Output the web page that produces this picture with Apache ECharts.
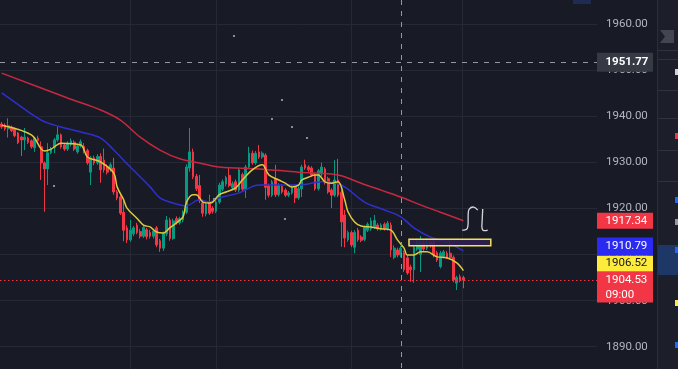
<!DOCTYPE html>
<html><head><meta charset="utf-8">
<script src="https://cdn.jsdelivr.net/npm/echarts@6/dist/echarts.min.js"></script>
<style>html,body{margin:0;padding:0;background:#181b26;overflow:hidden}#c{width:678px;height:369px}</style>
</head><body><div id="c"></div>
<script>
// ---- data ----
const SLOT_COUNT = 181; // time slots on the x axis (incl. empty space to the right)
const categories = Array.from({length: SLOT_COUNT}, (_, i) => String(i));
// [open, close, low, high]
const candles = [
[1938.36,1937.71,1937.30,1938.80],[1938.10,1937.30,1936.90,1938.50],[1937.30,1937.95,1935.40,1939.60],[1937.70,1936.90,1936.60,1938.00],
[1937.30,1935.80,1935.50,1937.60],[1936.40,1934.30,1934.00,1936.60],[1935.50,1934.90,1931.40,1935.80],[1934.90,1935.50,1932.70,1937.50],
[1935.30,1934.40,1934.00,1935.60],[1934.70,1933.40,1933.00,1935.00],[1933.20,1935.30,1932.30,1935.50],[1935.30,1934.80,1934.50,1935.80],
[1933.40,1929.90,1926.20,1934.60],[1929.90,1928.60,1919.30,1930.20],[1928.60,1932.10,1925.10,1934.20],[1932.10,1932.90,1931.80,1933.40],
[1933.20,1934.90,1932.00,1935.30],[1934.90,1936.00,1934.50,1937.70],[1936.00,1933.40,1933.00,1936.30],[1933.80,1932.90,1932.50,1934.20],
[1932.90,1934.20,1932.50,1934.60],[1933.90,1934.70,1933.50,1935.20],[1934.40,1932.90,1932.50,1934.80],[1932.30,1933.60,1931.90,1934.00],
[1933.60,1934.50,1933.20,1935.00],[1933.50,1932.40,1932.00,1934.20],[1932.60,1929.90,1929.50,1933.00],[1927.90,1931.00,1925.10,1931.40],
[1931.00,1929.90,1929.40,1931.50],[1929.90,1931.30,1929.50,1931.80],[1931.30,1928.40,1925.60,1932.00],[1930.50,1928.40,1927.80,1933.00],
[1929.00,1927.90,1927.40,1929.60],[1928.60,1929.50,1928.00,1930.00],[1928.80,1923.60,1923.00,1931.00],[1923.60,1922.30,1921.80,1924.00],
[1922.50,1919.00,1918.60,1923.00],[1919.20,1915.30,1912.90,1922.30],[1915.80,1913.20,1912.50,1916.40],[1913.20,1915.30,1912.80,1917.50],
[1914.50,1915.80,1914.00,1916.20],[1916.40,1914.80,1914.40,1916.90],[1915.00,1914.00,1913.50,1915.50],[1914.00,1915.90,1913.60,1916.30],
[1915.40,1913.90,1913.30,1915.80],[1914.80,1914.00,1913.50,1915.40],[1914.00,1915.10,1913.50,1915.60],[1915.80,1912.10,1911.60,1916.20],
[1913.00,1911.40,1910.60,1913.40],[1911.40,1914.60,1910.80,1915.00],[1914.50,1917.50,1914.00,1918.40],[1917.50,1913.50,1913.00,1918.00],
[1913.50,1917.30,1913.20,1917.80],[1917.80,1916.90,1916.50,1918.30],[1916.90,1917.80,1916.50,1918.20],[1917.50,1919.20,1917.00,1919.60],
[1919.20,1929.00,1918.80,1929.60],[1928.80,1932.30,1928.00,1937.50],[1932.30,1926.90,1926.40,1933.00],[1927.00,1924.30,1923.80,1927.50],
[1925.00,1921.80,1921.20,1927.30],[1921.20,1919.00,1918.20,1921.80],[1918.80,1920.90,1918.30,1921.30],[1921.20,1919.00,1918.60,1923.00],
[1920.10,1919.40,1918.90,1920.50],[1919.40,1921.40,1919.00,1921.90],[1921.40,1925.10,1921.00,1925.60],[1924.20,1925.80,1923.80,1926.30],
[1925.30,1926.70,1924.80,1927.10],[1927.20,1925.00,1924.60,1928.80],[1924.50,1925.40,1924.00,1925.90],[1925.80,1924.00,1923.60,1926.30],
[1924.00,1928.40,1923.60,1928.90],[1927.40,1924.20,1923.80,1927.80],[1924.20,1929.00,1922.30,1929.50],[1929.00,1932.00,1928.60,1933.40],
[1932.00,1929.90,1929.50,1932.60],[1929.90,1932.00,1929.50,1932.50],[1932.30,1931.20,1930.80,1933.80],[1931.20,1932.00,1930.80,1932.40],
[1931.60,1924.60,1921.90,1932.00],[1925.00,1922.90,1922.40,1925.40],[1922.90,1925.80,1922.50,1926.20],[1926.50,1923.00,1922.50,1929.50],
[1923.00,1925.10,1922.60,1925.50],[1924.80,1923.60,1923.20,1925.20],[1924.00,1922.90,1922.50,1924.40],[1922.90,1923.40,1922.50,1923.80],
[1923.40,1924.70,1923.00,1925.10],[1924.70,1922.30,1921.20,1925.10],[1922.30,1924.30,1921.90,1924.80],[1924.30,1929.00,1922.50,1929.50],
[1929.50,1928.80,1928.40,1930.60],[1929.00,1928.40,1928.00,1929.40],[1928.80,1927.30,1926.90,1929.20],[1927.30,1924.30,1923.90,1927.80],
[1924.30,1928.20,1923.90,1928.60],[1927.50,1929.00,1927.00,1930.00],[1928.60,1925.60,1925.20,1929.00],[1926.50,1923.60,1923.20,1926.90],
[1924.00,1922.90,1920.10,1924.40],[1922.90,1926.20,1922.50,1930.50],[1926.20,1922.90,1922.50,1930.80],[1923.50,1917.10,1911.70,1924.00],
[1918.60,1913.60,1911.60,1919.70],[1913.20,1914.80,1912.80,1915.20],[1914.80,1912.10,1911.60,1915.20],[1911.60,1914.80,1910.30,1915.30],
[1915.30,1913.20,1912.80,1915.80],[1913.80,1913.10,1912.70,1914.20],[1913.30,1915.90,1912.90,1916.30],[1915.30,1916.60,1914.90,1917.00],
[1915.60,1917.30,1915.20,1918.00],[1916.00,1917.40,1915.60,1918.60],[1916.40,1915.60,1915.20,1916.80],[1915.60,1916.40,1915.20,1916.80],
[1916.60,1915.60,1915.20,1917.00],[1915.60,1916.80,1915.20,1917.30],[1916.40,1911.00,1909.50,1917.00],[1909.40,1911.40,1909.00,1912.00],
[1911.00,1909.90,1909.40,1911.50],[1909.90,1911.40,1909.40,1911.90],[1910.40,1906.70,1906.20,1910.90],[1909.30,1906.00,1905.60,1909.80],
[1907.30,1906.70,1904.10,1907.80],[1906.70,1911.60,1903.90,1912.00],[1911.20,1912.70,1910.80,1913.40],[1910.00,1912.40,1906.20,1914.00],
[1912.70,1911.20,1910.80,1913.10],[1911.40,1912.70,1911.00,1913.50],[1912.70,1911.90,1911.50,1913.10],[1912.70,1909.90,1909.40,1913.10],
[1910.40,1908.80,1908.40,1910.80],[1907.40,1910.30,1907.00,1910.80],[1909.60,1910.60,1909.20,1911.00],[1910.30,1909.40,1909.00,1910.80],
[1910.30,1909.40,1909.00,1913.20],[1909.40,1904.50,1904.00,1909.80],[1903.80,1905.00,1902.30,1905.40],[1905.20,1904.40,1904.00,1905.70],
[1905.00,1904.53,1902.70,1905.40]
];
// moving averages: [slot index, price]
const maFast = [[0,1938.1],[9,1936.0],[12,1932.9],[13,1932.5],[15,1932.9],[18,1934.2],[24,1933.8],[26,1931.2],[30,1930.1],[34,1927.7],
[35,1924.7],[37,1921.9],[38,1920.1],[41,1917.9],[43,1916.4],[45,1916.0],[47,1914.9],[49,1914.7],[51,1915.8],[53,1916.9],[55,1918.2],
[56,1921.3],[58,1923.0],[59,1923.0],[61,1921.4],[63,1921.2],[64,1921.4],[66,1923.0],[68,1923.6],[71,1924.5],[73,1926.2],[76,1928.4],
[79,1929.5],[81,1927.3],[84,1926.2],[86,1925.5],[88,1924.7],[90,1925.1],[91,1926.2],[93,1926.8],[95,1927.3],[96,1927.3],[98,1925.8],
[100,1925.5],[102,1925.8],[104,1921.9],[105,1919.3],[107,1917.1],[109,1916.2],[112,1916.0],[115,1915.6],[118,1915.3],[120,1913.2],
[122,1911.4],[123,1909.9],[125,1909.9],[127,1910.6],[129,1910.6],[132,1909.5],[135,1909.3],[138,1908.2],[140,1906.52]];
const maMid = [[0,1945.1],[3,1943.6],[12,1939.2],[18,1937.7],[24,1936.6],[30,1935.3],[34,1932.7],[39,1929.0],[45,1924.7],[48,1922.3],
[52,1921.2],[56,1920.6],[60,1921.9],[63,1921.4],[66,1922.3],[72,1923.4],[78,1925.1],[84,1925.1],[90,1925.1],[97,1925.8],[103,1925.1],
[110,1921.4],[116,1919.7],[121,1918.2],[125,1915.8],[130,1913.8],[135,1912.7],[140,1910.79]];
const maSlow = [[0,1949.4],[20,1944.0],[30,1941.4],[36,1939.2],[42,1935.5],[48,1932.7],[54,1930.8],[60,1929.9],[66,1929.0],[78,1928.6],
[90,1927.9],[100,1927.5],[103,1927.1],[109,1925.5],[115,1924.0],[121,1922.5],[127,1920.8],[133,1919.2],[140,1917.34]];
const yTicks = {min: 1890, max: 1960, step: 10};
const timeGridSlots = [39, 65, 106, 139.6];
const crosshair = {slot: 121, price: 1951.77};
const lastPrice = 1904.53, lastTime = '09:00';
const tagValues = {slow: 1917.34, mid: 1910.79, fast: 1906.52};
const zone = {from: 123.5, to: 148.3, top: 1913.32, bottom: 1911.93};
const sketchAnchor = {slot: 141, price: 1917.5};

// ---- chart ----
const BG = '#181b26', GRIDC = '#252935', UP = '#089981', DOWN = '#f23645';
const chart = echarts.init(document.getElementById('c'), null, {renderer: 'canvas'});
const FONT = 'Roboto, "Liberation Sans", sans-serif';
chart.setOption({
  animation: false,
  backgroundColor: BG,
  grid: {left: 0, right: 81, top: 24.3, bottom: 22.3},
  xAxis: {type: 'category', data: categories, boundaryGap: true, show: false},
  yAxis: {type: 'value', position: 'right', min: yTicks.min, max: yTicks.max, interval: yTicks.step,
    axisLine: {show: false}, axisTick: {show: false},
    axisLabel: {color: '#b2b5be', fontSize: 11.5, fontFamily: FONT, margin: 9, formatter: v => v.toFixed(2)},
    splitLine: {lineStyle: {color: GRIDC, width: 1}}},
  series: [
    {type: 'candlestick', data: candles, barWidth: 2.2, z: 3,
      itemStyle: {color: UP, color0: DOWN, borderColor: UP, borderColor0: DOWN, borderWidth: 1},
      markLine: {silent: true, symbol: 'none', animation: false, label: {show: false},
        data: [
          {yAxis: crosshair.price, lineStyle: {color: '#9598a1', type: [5, 6], width: 1}},
          {yAxis: lastPrice, lineStyle: {color: DOWN, type: [1.5, 2.5], width: 1}}
        ]}},
    {type: 'line', data: maSlow, smooth: 0.35, showSymbol: false, z: 4, lineStyle: {color: '#c6283f', width: 1.5}},
    {type: 'line', data: maMid, smooth: 0.35, showSymbol: false, z: 4, lineStyle: {color: '#2f2fd0', width: 1.5}},
    {type: 'line', data: maFast, smooth: 0.35, showSymbol: false, z: 5, lineStyle: {color: '#dcca3c', width: 1.5}}
  ]
});

function P(slot, price) { return chart.convertToPixel({xAxisIndex: 0, yAxisIndex: 0}, [slot, price]); }
const x0 = P(0, 1900)[0], bw = P(1, 1900)[0] - x0;
const sx = s => x0 + s * bw;
const sy = p => P(0, p)[1];
const W = 678, H = 369, AX = 597;

const g = [];
timeGridSlots.forEach(s => { const x = Math.round(sx(s)) + 0.5;
  g.push({type: 'line', z: 0, silent: true, shape: {x1: x, y1: 0, x2: x, y2: H}, style: {stroke: GRIDC, lineWidth: 1}}); });
{ const x = Math.round(sx(crosshair.slot)) + 0.5;
  g.push({type: 'line', z: 50, silent: true, shape: {x1: x, y1: 0, x2: x, y2: H}, style: {stroke: '#9598a1', lineWidth: 1, lineDash: [5, 6]}}); }
{ const xa = sx(zone.from), xb = sx(zone.to), ya = sy(zone.top), yb = sy(zone.bottom);
  g.push({type: 'rect', z: 40, silent: true, shape: {x: xa, y: ya, width: xb - xa, height: yb - ya},
    style: {fill: 'rgba(48,32,78,0.9)', stroke: '#f3e35a', lineWidth: 1.5}}); }
{ const a = P(sketchAnchor.slot, sketchAnchor.price); const ax = a[0], ay = a[1];
  const s1 = [[11,-10],[7,-13],[2.5,-11],[1.5,-6],[1.2,6],[-0.5,9.5],[-4.5,10]];
  const s2 = [[16,-11],[15.5,0],[15.3,8],[17,10.5],[21,10]];
  [s1, s2].forEach(s => g.push({type: 'polyline', z: 60, silent: true,
    shape: {points: s.map(p => [ax + p[0], ay + p[1]]), smooth: 0.4},
    style: {fill: null, stroke: '#d6d7db', lineWidth: 1.3}}));
}
[[233,35],[281,99],[291,126],[306,137],[271,118],[213,198],[284,218],[53,185]].forEach(p =>
  g.push({type: 'rect', z: 6, silent: true, shape: {x: p[0], y: p[1], width: 2, height: 2}, style: {fill: '#8a8d96'}}));

function tag(yTop, h, text, bg, fg, extra) {
  g.push({type: 'rect', z: 90, silent: true, shape: {x: AX, y: yTop, width: 56, height: h}, style: {fill: bg}});
  g.push({type: 'text', z: 91, silent: true, style: {x: AX + 8.5, y: yTop + (extra ? 8.5 : h / 2), text, fill: fg,
    font: `11.5px ${FONT}`, textAlign: 'left', textVerticalAlign: 'middle'}});
  if (extra) g.push({type: 'text', z: 91, silent: true, style: {x: AX + 8.5, y: yTop + 23.5, text: extra, fill: fg,
    font: `11.5px ${FONT}`, textAlign: 'left', textVerticalAlign: 'middle'}});
}
const yLast = sy(lastPrice);
const curTop = yLast - 8.3;
tag(curTop, 31, lastPrice.toFixed(2), DOWN, '#ffffff', lastTime);
tag(curTop - 16, 16, tagValues.fast.toFixed(2), '#ffeb3b', '#131722');
tag(curTop - 34, 18, tagValues.mid.toFixed(2), '#2a2af2', '#ffffff');
tag(sy(tagValues.slow) - 8, 16, tagValues.slow.toFixed(2), DOWN, '#ffffff');
{ const yc = sy(crosshair.price);
  g.push({type: 'rect', z: 92, silent: true, shape: {x: AX, y: yc - 9.5, width: 56, height: 19}, style: {fill: '#363a45'}});
  g.push({type: 'text', z: 93, silent: true, style: {x: AX + 8.5, y: yc, text: crosshair.price.toFixed(2), fill: '#ffffff',
    font: `bold 11.5px ${FONT}`, textAlign: 'left', textVerticalAlign: 'middle'}}); }

g.push({type: 'rect', z: 95, silent: true, shape: {x: 657, y: 0, width: 21, height: H}, style: {fill: '#1c1f2a'}});
g.push({type: 'line', z: 96, silent: true, shape: {x1: 657.5, y1: 0, x2: 657.5, y2: H}, style: {stroke: '#2a2e39', lineWidth: 1}});
g.push({type: 'rect', z: 96, silent: true, shape: {x: 658, y: 245, width: 20, height: 30}, style: {fill: '#1d3866'}});
[50, 59, 90, 118, 150, 181].forEach(y => g.push({type: 'line', z: 96, silent: true, shape: {x1: 658, y1: y + 0.5, x2: W, y2: y + 0.5}, style: {stroke: '#2e3240', lineWidth: 1}}));
g.push({type: 'polygon', z: 97, silent: true, shape: {points: [[660,30],[674,30],[674,43],[660,43],[665,36.5]]}, style: {fill: '#434651'}});
[[72,'#d1d4dc'],[136,'#f23645'],[200,'#2962ff'],[222,'#9598a1'],[250,'#2962ff'],[303,'#ffeb3b'],[345,'#2962ff']].forEach(q =>
  g.push({type: 'rect', z: 97, silent: true, shape: {x: 675, y: q[0] - 3, width: 3, height: 6}, style: {fill: q[1]}}));
g.push({type: 'rect', z: 97, silent: true, shape: {x: 573, y: 0, width: 18, height: 4}, style: {fill: '#1f2b52'}});

chart.setOption({graphic: {elements: g}});
</script>
</body></html>
